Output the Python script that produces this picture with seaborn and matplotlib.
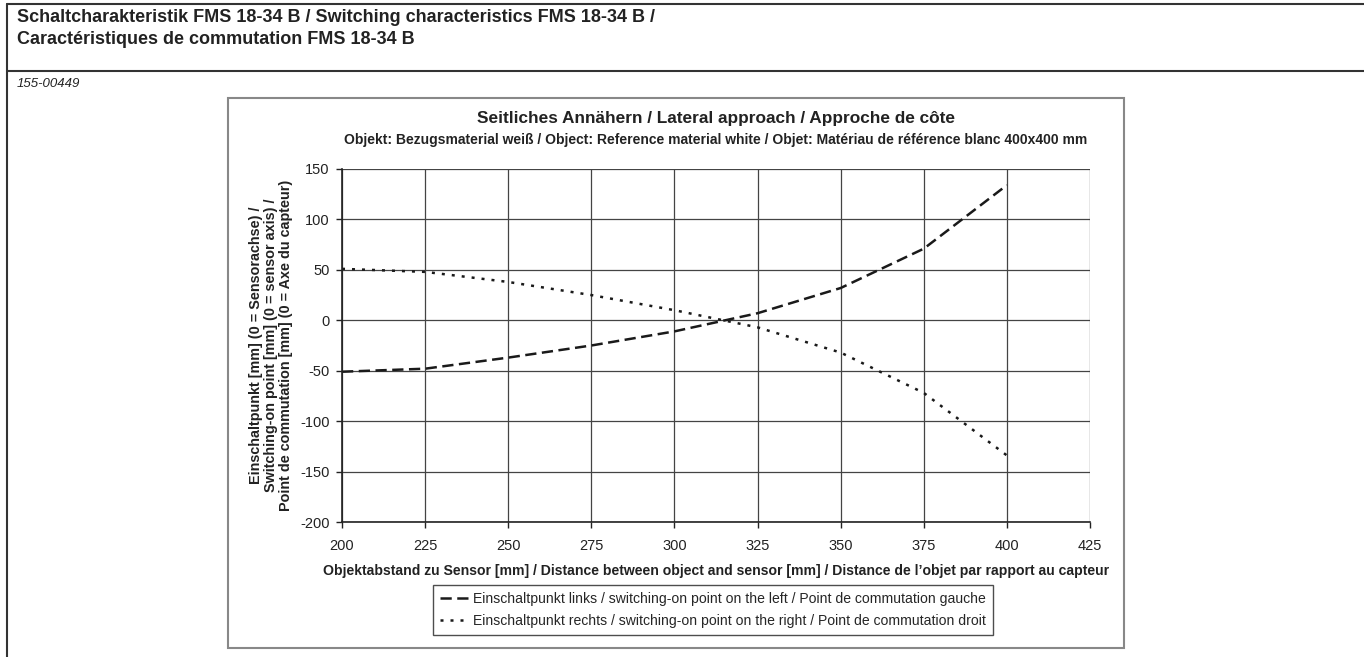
import numpy as np
import pandas as pd
import matplotlib
matplotlib.use("Agg")
import matplotlib.pyplot as plt
from matplotlib.patches import Rectangle
from matplotlib.lines import Line2D
import seaborn as sns

# data
distance = [200, 225, 250, 275, 300, 325, 350, 375, 400]
left_point = [-51, -48, -37, -25, -11, 7, 32, 71, 134]
right_point = [51, 48, 38, 25, 10, -7, -32, -72, -134]

x_ticks = [200, 225, 250, 275, 300, 325, 350, 375, 400, 425]
y_ticks = [-200, -150, -100, -50, 0, 50, 100, 150]

lbl_left = "Einschaltpunkt links / switching-on point on the left / Point de commutation gauche"
lbl_right = "Einschaltpunkt rechts / switching-on point on the right / Point de commutation droit"

sns.set_theme(style="white")
plt.rcParams['font.family'] = ['Liberation Sans', 'DejaVu Sans']
plt.rcParams['axes.unicode_minus'] = False

W, H = 1364, 657
fig = plt.figure(figsize=(W / 100, H / 100), dpi=100)

def fx(px):
    return px / W

def fy(py):
    return 1 - py / H

# --- page header ---
fig.add_artist(Line2D([fx(7), 1], [fy(4), fy(4)], color='#333333', lw=1.5))
fig.add_artist(Line2D([fx(7), 1], [fy(71), fy(71)], color='#333333', lw=1.5))
fig.add_artist(Line2D([fx(7), fx(7)], [fy(4), 0], color='#333333', lw=1.5))
fig.text(fx(17), fy(17), "Schaltcharakteristik FMS 18-34 B / Switching characteristics FMS 18-34 B /",
         fontsize=13, fontweight='bold', va='center', color='#222222')
fig.text(fx(17), fy(40), "Caractéristiques de commutation FMS 18-34 B",
         fontsize=13, fontweight='bold', va='center', color='#222222')
fig.text(fx(17), fy(84), "155-00449", fontsize=9.5, style='italic', va='center', color='#222222')

# chart frame
fig.add_artist(Rectangle((fx(228), fy(648)), fx(1124) - fx(228), fy(98) - fy(648),
                         fill=False, edgecolor='#888888', lw=1.5))

# --- plot ---
ax = fig.add_axes([fx(342), fy(522), fx(1090) - fx(342), fy(169) - fy(522)])

df = pd.DataFrame({"dist": distance, "left": left_point, "right": right_point})
sns.lineplot(data=df, x="dist", y="left", ax=ax, color='#1a1a1a', lw=1.8, label=lbl_left)
ax.lines[-1].set_dashes((4.5, 2.2))
sns.lineplot(data=df, x="dist", y="right", ax=ax, color='#1a1a1a', lw=1.8, label=lbl_right)
ax.lines[-1].set_dashes((1.2, 2.8))

ax.set_xlim(200, 425)
ax.set_ylim(-200, 150)
ax.set_xticks(x_ticks)
ax.set_yticks(y_ticks)
ax.grid(True, color='#444444', lw=0.9)
for s in ['top', 'right']:
    ax.spines[s].set_visible(False)
for s in ['left', 'bottom']:
    ax.spines[s].set_color('#222222')
    ax.spines[s].set_linewidth(1.2)
ax.tick_params(axis='both', direction='out', length=4, width=1, color='#222222',
               labelsize=10.5, labelcolor='#222222', pad=5, left=True, bottom=True)
ax.tick_params(axis='x', pad=8)

ax.set_xlabel("Objektabstand zu Sensor [mm] / Distance between object and sensor [mm] / Distance de l\u2019objet par rapport au capteur",
              fontsize=10.1, fontweight='bold', color='#222222', labelpad=8)
ax.set_ylabel("Einschaltpunkt [mm] (0 = Sensorachse) /\nSwitching-on point [mm] (0 = sensor axis) /\nPoint de commutation [mm] (0 = Axe du capteur)",
              fontsize=10.4, fontweight='bold', color='#222222', labelpad=5, linespacing=1.1)

fig.text((fx(342) + fx(1090)) / 2, fy(118), "Seitliches Annähern / Lateral approach / Approche de côte",
         fontsize=12.4, fontweight='bold', ha='center', va='center', color='#222222')
fig.text(fx(716), fy(140), "Objekt: Bezugsmaterial weiß / Object: Reference material white / Objet: Matériau de référence blanc 400x400 mm",
         fontsize=10, fontweight='bold', ha='center', va='center', color='#222222')

ax.legend_.remove()
handles = ax.lines[:2]
leg = fig.legend(handles, [lbl_left, lbl_right], loc='center',
                 bbox_to_anchor=(fx(713), fy(610)), fontsize=10.1, frameon=True,
                 fancybox=False, edgecolor='#222222', handlelength=2.0,
                 handletextpad=0.3, borderpad=0.5, labelspacing=0.55,
                 borderaxespad=0)
leg.get_frame().set_linewidth(1)

fig.savefig("out.png", dpi=100)
